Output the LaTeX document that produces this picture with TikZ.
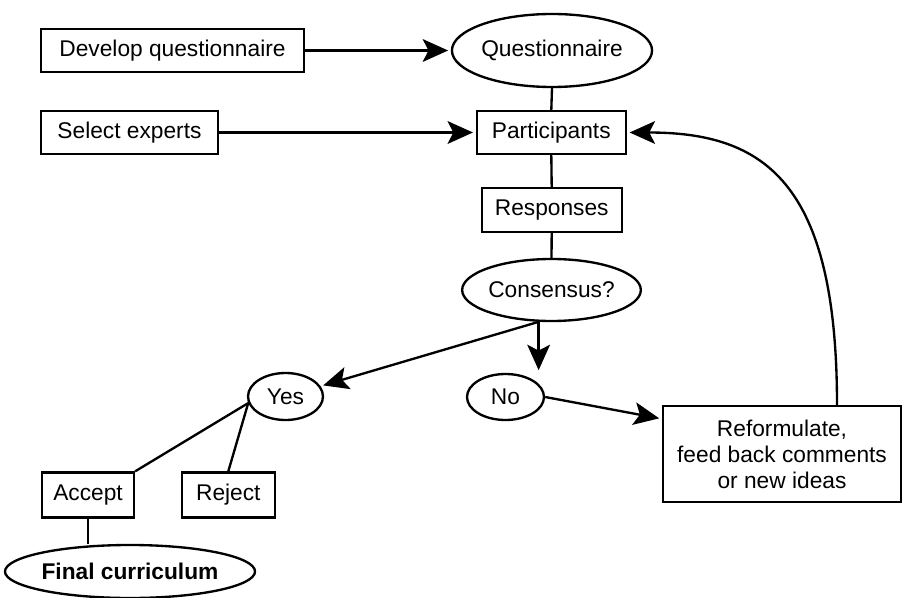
\documentclass[tikz,border=0pt]{standalone}
\usepackage{fontspec}
\setmainfont{Liberation Sans}
\usetikzlibrary{arrows.meta,shapes.geometric}

\begin{document}
\begin{tikzpicture}[x=0.3mm, y=-0.3mm,
  every node/.style={font=\fontsize{19.4}{22.2}\selectfont, inner sep=0pt, align=center},
  box/.style={draw, rectangle, line width=2pt, minimum height=12.9mm},
  oval/.style={draw, ellipse, line width=2pt},
  link/.style={line width=2pt},
  flow/.style={link, -{Stealth[length=7.6mm, width=6.8mm, inset=1.7mm]}, shorten >=0.8mm}
]

% ---------- frame ----------
\useasboundingbox (0,0) rectangle (903,598);

% ---------- top row ----------
\node[box, minimum width=78.9mm] (dev) at (172.5,50.5) {Develop questionnaire};
\node[oval, minimum width=58.2mm, minimum height=21.9mm] (quest) at (552,50.5) {Questionnaire};

\node[box, minimum width=53.1mm] (sel) at (129.5,132.5) {Select experts};
\node[box, minimum width=44.7mm] (part) at (551.3,132.5) {Participants};

% ---------- middle column ----------
\node[box, minimum width=42mm, minimum height=13.2mm] (resp) at (551.7,210) {Responses};
\node[oval, minimum width=53.1mm, minimum height=18.6mm] (cons) at (551.5,290) {Consensus?};

\node[oval, minimum width=22.5mm, minimum height=14.1mm] (yes) at (285.5,396.5) {Yes};
\node[oval, minimum width=23.1mm, minimum height=13.8mm] (no) at (505.5,397) {No};

\node[box, minimum width=71.4mm, minimum height=28.8mm] (reform) at (782,454)
  {Reformulate,\\feed back comments\\or new ideas};

% ---------- bottom left ----------
\node[box, minimum width=27.6mm, minimum height=13.5mm] (accept) at (88,495) {Accept};
\node[box, minimum width=27.9mm, minimum height=13.5mm] (reject) at (228.3,495) {Reject};
\node[oval, minimum width=70.8mm, minimum height=15.9mm] (final) at (130,571.5)
  {\bfseries Final curriculum};

% ---------- connectors ----------
\coordinate (split) at (cons.248);
\coordinate (fork) at (yes.190);

\draw[flow] (dev.east) -- (quest.west);
\draw[flow] (sel.east) -- (part.west);
\draw[link] (quest.south) -- (part.north);
\draw[link] (part.south) -- (resp.north);
\draw[link] (resp.south) -- (cons.north);

\draw[flow] (split) -- (split |- no.north);
\draw[flow] (split) -- (yes);
\draw[flow] (no.east) -- ([yshift=-4.2mm]reform.north west);

\draw[link] (fork) -- (accept.north east);
\draw[link] (fork) -- (reject.north);
\draw[link] (accept.south) -- (accept.south |- final.north);

% feedback loop
\draw[flow] ([xshift=16.5mm]reform.north) .. controls +(0,-223) and +(137,0) .. (part.east);

\end{tikzpicture}
\end{document}
